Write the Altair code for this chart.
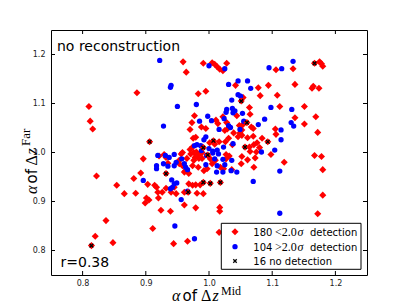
import altair as alt
import pandas as pd

# ---------------- data ----------------
red_x = [0.959, 0.964, 0.991, 1.005, 1.009, 1.013, 1.017, 1.022, 1.028, 0.886,
         0.810, 0.812, 0.816, 0.983, 0.995, 1.042, 1.078, 1.081, 1.054, 1.064,
         1.065, 1.044, 1.022, 0.977, 0.973, 0.970, 0.988, 0.995, 1.011, 1.014,
         1.028, 1.025, 1.029, 1.053, 1.067, 1.070, 0.975, 0.979, 1.001, 1.009,
         1.031, 1.026, 1.016, 1.046, 1.052, 1.061, 1.070, 1.076, 1.064, 1.080,
         1.084, 0.970, 0.958, 0.929, 0.921, 0.980, 0.987, 1.027, 1.032, 1.175,
         1.178, 1.180, 1.106, 1.133, 1.136, 1.094, 1.163, 1.165, 1.174, 1.108,
         1.112, 1.151, 1.136, 1.169, 1.151, 1.105, 1.106, 1.172, 1.098, 1.167,
         1.178, 0.896, 0.822, 0.892, 0.881, 0.903, 0.854, 0.866, 0.884, 0.901,
         0.905, 0.899, 0.917, 0.919, 0.920, 0.837, 0.911, 0.820, 0.848, 0.932,
         0.956, 0.976, 0.983, 0.989, 1.027, 1.052, 1.061, 1.073, 1.051, 0.953,
         0.953, 0.958, 0.963, 0.968, 0.961, 0.974, 0.983, 0.997, 1.023, 1.036,
         1.010, 1.018, 1.002, 1.005, 0.914, 0.932, 0.926, 0.940, 0.945, 0.948,
         0.968, 0.974, 0.979, 0.986, 0.961, 0.981, 0.991, 0.961, 0.979, 0.924,
         0.939, 1.017, 1.017, 0.944, 0.966, 1.016, 1.119, 1.180, 1.180, 1.172,
         1.071, 1.075, 1.065, 1.071, 1.039, 1.049, 1.048, 1.052, 1.037, 0.974,
         0.971, 0.978, 0.984, 0.989, 0.976, 0.965, 0.935, 0.992]
red_y = [1.185, 1.164, 1.182, 1.183, 1.180, 1.175, 1.170, 1.167, 1.182, 1.122,
         1.094, 1.064, 1.048, 1.120, 1.125, 1.137, 1.132, 1.116, 1.112, 1.092,
         1.078, 1.075, 1.073, 1.075, 1.061, 1.047, 1.052, 1.049, 1.066, 1.059,
         1.061, 1.045, 1.048, 1.056, 1.052, 1.049, 1.029, 1.031, 1.020, 1.017,
         1.029, 1.022, 1.022, 1.032, 1.035, 1.030, 1.033, 1.020, 1.011, 1.010,
         1.029, 1.006, 1.000, 0.996, 0.993, 1.001, 0.998, 0.996, 0.993, 1.185,
         1.181, 1.176, 1.169, 1.171, 1.139, 1.137, 1.131, 1.135, 1.131, 1.117,
         1.094, 1.094, 1.071, 1.073, 1.058, 1.048, 1.037, 1.041, 0.996, 0.994,
         0.992, 0.987, 0.952, 0.958, 0.947, 0.935, 0.933, 0.916, 0.917, 0.907,
         0.903, 0.897, 0.929, 0.919, 0.907, 0.861, 0.845, 0.829, 0.816, 0.990,
         0.997, 1.000, 0.996, 1.000, 0.987, 0.992, 0.985, 0.989, 0.977, 0.984,
         0.977, 0.973, 0.963, 0.957, 0.960, 0.973, 0.970, 0.967, 0.967, 0.965,
         0.984, 0.970, 0.987, 0.977, 0.933, 0.927, 0.919, 0.919, 0.929, 0.916,
         0.936, 0.933, 0.934, 0.934, 0.919, 0.917, 0.916, 0.893, 0.887, 0.882,
         0.880, 0.888, 0.880, 0.814, 0.819, 0.837, 0.980, 0.965, 0.913, 0.875,
         1.016, 1.001, 1.002, 0.970, 1.040, 1.040, 1.055, 1.046, 1.016, 1.011,
         0.997, 0.990, 0.988, 0.988, 0.984, 0.988, 0.978, 0.963]

blue_x = [0.922, 1.000, 1.025, 0.940, 0.939, 1.031, 1.046, 1.061, 1.066, 0.950,
          0.980, 1.046, 1.050, 1.036, 1.028, 1.027, 1.037, 1.041, 1.038, 1.053,
          0.985, 0.998, 1.004, 0.928, 1.024, 1.031, 1.034, 1.016, 1.049, 0.995,
          0.992, 1.038, 1.023, 0.977, 0.981, 0.987, 1.000, 1.006, 1.013, 1.133,
          1.095, 1.115, 1.098, 1.131, 1.088, 1.078, 1.130, 1.134, 1.114, 1.114,
          1.104, 1.083, 0.919, 0.917, 0.917, 0.896, 0.945, 0.996, 1.006, 1.009,
          1.022, 1.025, 1.036, 0.945, 0.948, 0.961, 0.963, 0.966, 0.995, 1.013,
          1.012, 1.044, 0.941, 0.945, 0.949, 0.942, 0.939, 1.070, 0.966, 0.956,
          0.946, 0.977, 1.112, 1.112, 0.937, 0.931, 0.928, 0.935, 0.957, 1.022,
          1.035, 1.015, 0.988, 1.055]
blue_y = [1.188, 1.177, 1.171, 1.137, 1.133, 1.139, 1.146, 1.146, 1.131, 1.094,
          1.098, 1.118, 1.115, 1.107, 1.088, 1.082, 1.090, 1.085, 1.081, 1.080,
          1.064, 1.074, 1.065, 1.054, 1.069, 1.055, 1.051, 1.047, 1.047, 1.032,
          1.026, 1.018, 1.011, 1.014, 1.016, 1.014, 1.008, 1.003, 1.005, 1.186,
          1.173, 1.171, 1.092, 1.088, 1.068, 1.057, 1.061, 1.054, 1.046, 1.026,
          1.005, 1.001, 0.994, 0.973, 0.967, 0.943, 0.996, 0.994, 0.999, 0.987,
          0.986, 0.975, 0.984, 0.973, 0.980, 0.977, 0.970, 0.965, 0.975, 0.973,
          0.960, 0.960, 0.944, 0.936, 0.938, 0.929, 0.926, 0.941, 0.921, 0.904,
          0.850, 0.824, 0.962, 0.876, 0.990, 0.994, 0.977, 0.972, 0.987, 0.960,
          0.963, 0.997, 1.004, 1.064]

nodet_x = [0.814, 0.906, 0.932, 0.967, 0.991, 1.002, 1.018, 0.991, 0.998, 1.007,
           1.051, 1.060, 1.057, 1.093, 1.167]
nodet_y = [0.810, 1.022, 0.957, 0.919, 0.939, 0.937, 0.939, 1.010, 0.995, 1.024,
           1.105, 1.061, 1.011, 1.022, 1.182]

tick_values = [0.8, 0.9, 1.0, 1.1, 1.2]
legend_counts = ["180", "104", "16"]

# ---------------- chart ----------------
W, H = 316, 245
RED, BLUE = "#ff0000", "#0000ff"
SANS, SERIF = "DejaVu Sans", "Liberation Serif"
XPATH = "M-1,-1L1,1M1,-1L-1,1"
RSIZE, BSIZE = 50, 28

xs = alt.Scale(domain=[0.75, 1.25], nice=False, zero=False)
ys = alt.Scale(domain=[0.75, 1.25], nice=False, zero=False)
xaxis = alt.Axis(values=tick_values, format=".1f", ticks=False, domain=False, grid=False,
                 labelFontSize=8, labelFont=SANS, labelColor="#222", labelPadding=4, title=None)
yaxis = alt.Axis(values=tick_values, format=".1f", ticks=False, domain=False, grid=False,
                 labelFontSize=8, labelFont=SANS, labelColor="#222", labelPadding=6, title=None)


def X(f):
    return alt.X(f, type="quantitative", scale=xs, axis=xaxis)


def Y(f):
    return alt.Y(f, type="quantitative", scale=ys, axis=yaxis)


red = pd.DataFrame({"x": red_x, "y": red_y})
blue = pd.DataFrame({"x": blue_x, "y": blue_y})
nodet = pd.DataFrame({"x": nodet_x, "y": nodet_y})
tk = pd.DataFrame({"v": tick_values})

layers = []
# inward ticks on all four sides
layers.append(alt.Chart(tk).mark_rule(color="black", strokeWidth=1).encode(x=X("v"), y=alt.value(0), y2=alt.value(4)))
layers.append(alt.Chart(tk).mark_rule(color="black", strokeWidth=1).encode(x=X("v"), y=alt.value(H - 4), y2=alt.value(H)))
layers.append(alt.Chart(tk).mark_rule(color="black", strokeWidth=1).encode(y=Y("v"), x=alt.value(0), x2=alt.value(4)))
layers.append(alt.Chart(tk).mark_rule(color="black", strokeWidth=1).encode(y=Y("v"), x=alt.value(W - 4), x2=alt.value(W)))

layers.append(alt.Chart(red).mark_point(shape="diamond", filled=True, color=RED, size=RSIZE, opacity=1)
              .encode(x=X("x"), y=Y("y")))
layers.append(alt.Chart(blue).mark_point(shape="circle", filled=True, color=BLUE, size=BSIZE, opacity=1)
              .encode(x=X("x"), y=Y("y")))
layers.append(alt.Chart(nodet).mark_point(shape="diamond", filled=True, color=RED, size=RSIZE, opacity=1)
              .encode(x=X("x"), y=Y("y")))
layers.append(alt.Chart(nodet).mark_point(shape=XPATH, filled=False, color="black", size=14,
                                          strokeWidth=1.3, opacity=1)
              .encode(x=X("x"), y=Y("y")))


def txt(s, px, py, size, font, style="normal", angle=0):
    return alt.Chart(pd.DataFrame({"t": [s]})).mark_text(
        font=font, fontSize=size, fontStyle=style, angle=angle, align="left",
        baseline="alphabetic", color="black"
    ).encode(x=alt.value(px), y=alt.value(py), text="t:N")


# annotations
layers.append(txt("no reconstruction", 6, 21, 14, SANS))
layers.append(txt("r=0.38", 9.5, 237, 14, SANS))

# x axis title: alpha of Delta z^Mid
layers.append(txt("α", 121, 271, 16, SERIF, "italic"))
layers.append(txt("of", 131.5, 271, 15, SANS))
layers.append(txt("Δ", 150, 271, 16, SERIF))
layers.append(txt("z", 161.5, 271, 16, SERIF, "italic"))
layers.append(txt("Mid", 170, 265, 12, SERIF))

# y axis title: alpha of Delta z^Far (rotated)
layers.append(txt("α", -14, 164, 16, SERIF, "italic", 270))
layers.append(txt("of", -14, 153.5, 15, SANS, angle=270))
layers.append(txt("Δ", -14, 135.5, 16, SERIF, angle=270))
layers.append(txt("z", -14, 124.5, 16, SERIF, "italic", 270))
layers.append(txt("Far", -21, 116, 13, SERIF, angle=270))

# legend
lx0, ly0, lx1, ly1 = 170.3, 193.3, 310, 239.3
layers.append(alt.Chart(pd.DataFrame({"a": [0]})).mark_rect(fill="white", stroke="black", strokeWidth=1)
              .encode(x=alt.value(lx0), x2=alt.value(lx1), y=alt.value(ly0), y2=alt.value(ly1)))
layers.append(alt.Chart(pd.DataFrame({"a": [0]})).mark_point(shape="diamond", filled=True, color=RED, size=RSIZE, opacity=1)
              .encode(x=alt.value(184), y=alt.value(201.7)))
layers.append(alt.Chart(pd.DataFrame({"a": [0]})).mark_point(shape="circle", filled=True, color=BLUE, size=BSIZE, opacity=1)
              .encode(x=alt.value(184), y=alt.value(216.7)))
layers.append(alt.Chart(pd.DataFrame({"a": [0]})).mark_point(shape=XPATH, filled=False, color="black", size=12,
                                                             strokeWidth=1.3, opacity=1)
              .encode(x=alt.value(184), y=alt.value(231)))

layers.append(txt(legend_counts[0], 202.3, 205.5, 10, SANS))
layers.append(txt("<2.0", 224, 205.5, 12, SERIF))
layers.append(txt("σ", 246.5, 205.5, 12, SERIF, "italic"))
layers.append(txt("detection", 259, 205.5, 10, SANS))
layers.append(txt(legend_counts[1], 202.3, 221, 10, SANS))
layers.append(txt(">2.0", 224, 221, 12, SERIF))
layers.append(txt("σ", 246.5, 221, 12, SERIF, "italic"))
layers.append(txt("detection", 259, 221, 10, SANS))
layers.append(txt(legend_counts[2] + " no detection", 202.3, 234.5, 10, SANS))

chart = alt.layer(*layers).properties(
    width=W, height=H,
    autosize=alt.AutoSizeParams(type="none"),
    padding={"left": 43, "top": 22, "right": 32, "bottom": 30},
    background="white",
).configure_view(stroke="black", strokeWidth=1)

chart.save("out.html", embed_options={"renderer": "svg", "actions": False})
